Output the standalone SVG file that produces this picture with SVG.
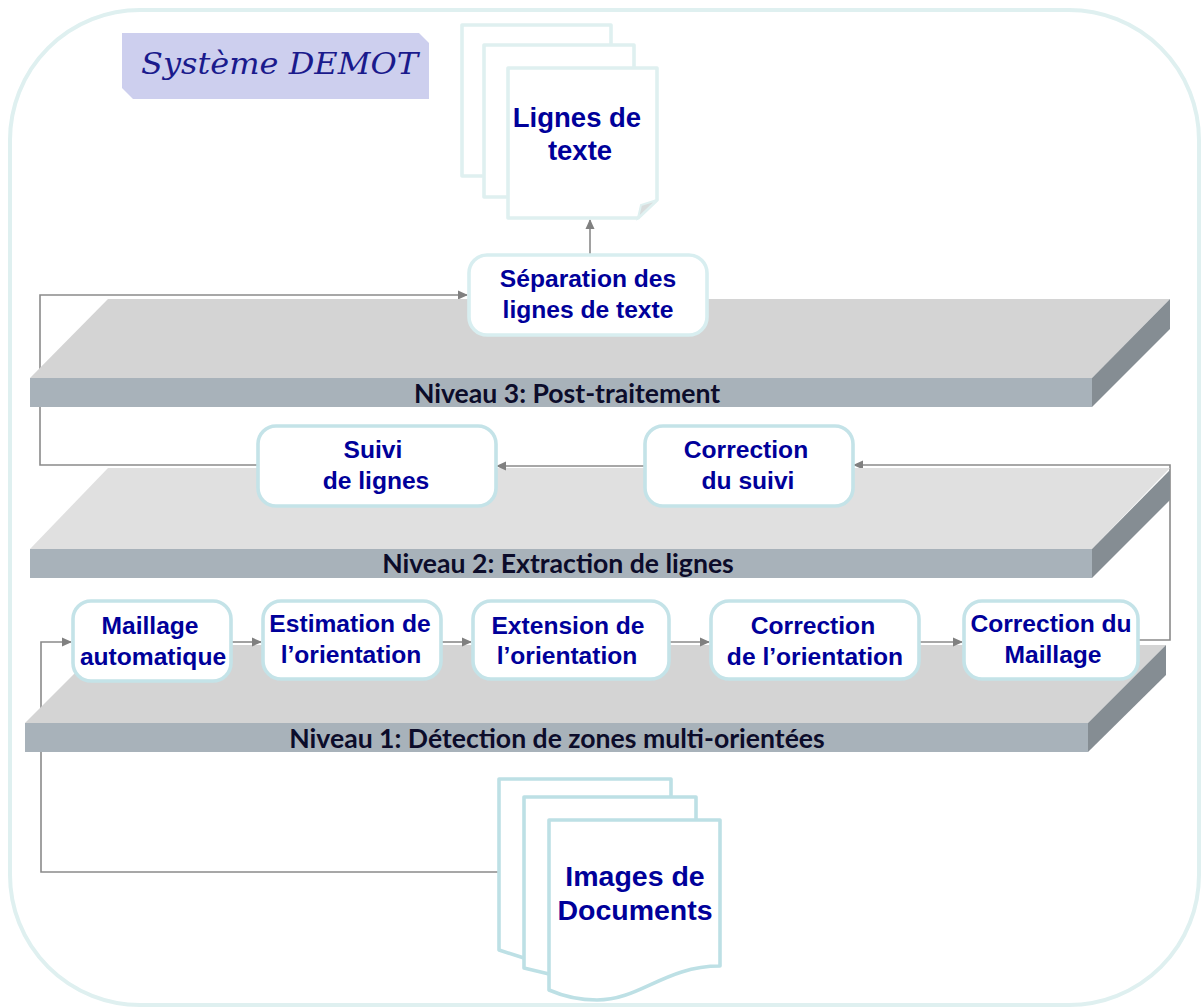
<svg xmlns="http://www.w3.org/2000/svg" width="1201" height="1007" viewBox="0 0 1201 1007">
<defs>
<marker id="arr" markerUnits="userSpaceOnUse" markerWidth="10" markerHeight="10" refX="9" refY="5" orient="auto"><path d="M0,0.5L10,5L0,9.5z" fill="#808080"/></marker>
</defs>
<style>
.t{font-family:"Liberation Sans",Arial,sans-serif;font-weight:700;font-size:24.6px;fill:#00009a;text-anchor:middle}
.big{font-size:27.5px}
.huge{font-size:28.5px}
.lv{font-family:Lato,"Noto Sans",sans-serif;font-weight:700;font-size:26.6px;fill:#0c0c2a;text-anchor:middle}
.n{fill:#fff;stroke:#c4e3e8;stroke-width:3.6}
.pale{stroke:#d8eef0}
.d{fill:#fff;stroke:#dff0f0;stroke-width:3.6;stroke-linejoin:round}
.d2{fill:#fff;stroke:#bde0e5;stroke-width:3.6;stroke-linejoin:round}
.c{fill:none;stroke:#8a8a8a;stroke-width:1.6}
.a{marker-end:url(#arr)}
.top3{fill:#d4d4d4}.top2{fill:#e0e0e0}.front{fill:#a8b2ba}.side{fill:#858d93}
</style>
<rect id="frame" x="10" y="10" width="1189" height="995" rx="130" ry="130" fill="#fff" stroke="#dff0f0" stroke-width="4"/>
<g id="title"><path d="M122,33H419L429,43V99H133L122,88Z" fill="#cdcfee"/>
<text x="141" y="74" font-family="'DejaVu Serif',serif" font-style="italic" font-size="29" fill="#1a1a8c" textLength="277" lengthAdjust="spacingAndGlyphs">Système DEMOT</text></g>
<g id="connectors">
<path class="c a" d="M498,872H41V642H71"/>
<path class="c a" d="M257,465H40V295H467"/>
<path class="c a" d="M1139,640H1170V465H854"/>
</g>
<g id="niveau3"><path class="top3" d="M108,299H1170L1092,378H30Z"/><rect class="front" x="30" y="378" width="1062" height="29"/><path class="side" d="M1092,378L1170,299V329L1092,407Z"/><text class="lv" x="567" y="403">Niveau 3: Post-traitement</text></g>
<g id="niveau2"><path class="top2" d="M108,468H1170L1092,549H30Z"/><rect class="front" x="30" y="549" width="1062" height="29"/><path class="side" d="M1092,549L1170,470V500L1092,578Z"/><text class="lv" x="558" y="573">Niveau 2: Extraction de lignes</text></g>
<g id="niveau1"><path class="top3" d="M103,645H1166L1088,723H25Z"/><rect class="front" x="25" y="723" width="1063" height="29"/><path class="side" d="M1088,723L1166,645V675L1088,752Z"/><text class="lv" x="557" y="748">Niveau 1: Détection de zones multi-orientées</text></g>
<g id="connectors-2">
<path class="c a" d="M590,254V220"/>
<path class="c a" d="M644,466H497"/>
<path class="c a" d="M232,642H261"/>
<path class="c a" d="M442,642H471"/>
<path class="c a" d="M670,642H709"/>
<path class="c a" d="M920,642H962"/>
</g>
<g id="doc-lignes">
<rect class="d" x="462" y="25" width="149" height="151"/>
<rect class="d" x="484" y="45" width="150" height="152"/>
<path class="d" d="M508,68H657V200L638,218H508Z"/>
<path d="M638,218L641,205L657,200Z" fill="#d8dcdc" stroke="#dff0f0" stroke-width="2"/>
<text class="t big" x="577" y="127">Lignes de</text>
<text class="t big" x="580" y="160">texte</text></g>
<g id="separation"><rect class="n pale" x="469" y="255" width="238" height="80" rx="18"/>
<text class="t" x="588" y="287">Séparation des</text><text class="t" x="588" y="318">lignes de texte</text></g>
<g id="suivi"><rect class="n" x="258" y="426" width="238" height="80" rx="18"/><text class="t" x="373" y="458">Suivi</text><text class="t" x="376" y="489">de lignes</text></g>
<g id="correction-suivi"><rect class="n" x="645" y="426" width="208" height="80" rx="18"/><text class="t" x="746" y="458">Correction</text><text class="t" x="748" y="489">du suivi</text></g>
<g id="maillage"><rect class="n" x="73" y="601" width="158" height="80" rx="18"/><text class="t" x="150" y="634">Maillage</text><text class="t" x="153" y="665">automatique</text></g>
<g id="estimation"><rect class="n" x="263" y="601" width="178" height="78" rx="18"/><text class="t" x="350" y="632">Estimation de</text><text class="t" x="351" y="663">l’orientation</text></g>
<g id="extension"><rect class="n" x="473" y="601" width="196" height="78" rx="18"/><text class="t" x="568" y="634">Extension de</text><text class="t" x="567" y="664">l’orientation</text></g>
<g id="correction-orientation"><rect class="n" x="711" y="601" width="208" height="78" rx="18"/><text class="t" x="813" y="634">Correction</text><text class="t" x="815" y="665">de l’orientation</text></g>
<g id="correction-maillage"><rect class="n" x="964" y="601" width="174" height="78" rx="18"/><text class="t" x="1051" y="632">Correction du</text><text class="t" x="1053" y="663">Maillage</text></g>
<g id="doc-images">
<path class="d2" d="M524,958L499,950V779H671V800"/>
<path class="d2" d="M549,974L524,968V797H696V822"/>
<path class="d2" d="M549,820H720V966C665,966 640,1000 597,1000C578,1000 565,997 549,990Z"/>
<text class="t huge" x="635" y="886">Images de</text>
<text class="t huge" x="635" y="920">Documents</text></g>
</svg>
